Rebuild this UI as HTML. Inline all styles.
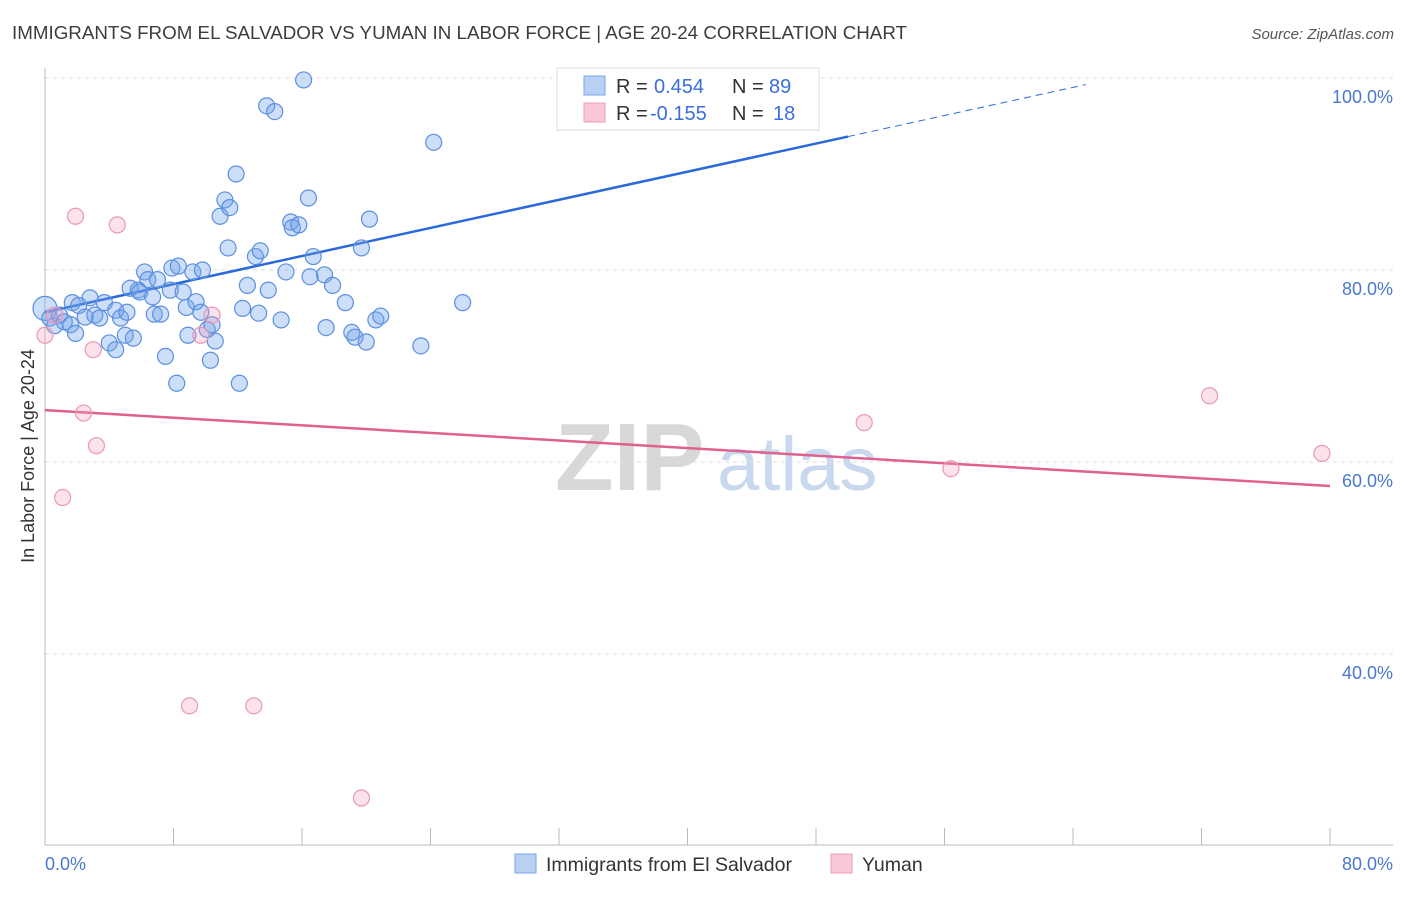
<!DOCTYPE html>
<html><head><meta charset="utf-8"><style>
body{margin:0;background:#fff;font-family:"Liberation Sans",sans-serif;}
svg text{font-family:"Liberation Sans",sans-serif;}
</style></head><body>
<svg id="chart" width="1406" height="892" viewBox="0 0 1406 892" xmlns="http://www.w3.org/2000/svg">
<text x="12" y="39" font-size="18" fill="#3c3c3c" textLength="895" lengthAdjust="spacingAndGlyphs">IMMIGRANTS FROM EL SALVADOR VS YUMAN IN LABOR FORCE | AGE 20-24 CORRELATION CHART</text>
<text x="1394" y="39" font-size="15" fill="#555" text-anchor="end" font-style="italic">Source: ZipAtlas.com</text>
<g>
<text x="555" y="490" font-size="96" fill="#d8d8d8" font-family="Liberation Serif" font-weight="bold">ZIP</text>
<text x="717" y="490" font-size="76" fill="#c8d8ee">atlas</text>
</g>
<g id="grid"></g>
<line x1="45" y1="68" x2="45" y2="845" stroke="#bbb"/>
<line x1="45" y1="845" x2="1393" y2="845" stroke="#bbb"/>
<g id="ticks"></g>
<text transform="translate(34,456) rotate(-90)" font-size="18" fill="#333" text-anchor="middle">In Labor Force | Age 20-24</text>
<text x="45" y="870" font-size="18" fill="#4a78d0">0.0%</text>
<text x="1393" y="870" font-size="18" fill="#4a78d0" text-anchor="end">80.0%</text>
<g id="trends"></g>
<g id="points"></g>
<g>
<rect x="557" y="68" width="262" height="62" fill="#fff" stroke="#ddd"/>
<rect x="584" y="76" width="21" height="19" fill="#b8d0f4" stroke="#7aa4e8"/>
<rect x="584" y="103" width="21" height="19" fill="#f8c8d8" stroke="#ec9cb8"/>
<text x="616" y="93" font-size="20" fill="#333">R = <tspan x="654" fill="#3a6fd8">0.454</tspan><tspan x="732">N = </tspan><tspan x="769" fill="#3a6fd8">89</tspan></text>
<text x="616" y="120" font-size="20" fill="#333">R = <tspan x="650" fill="#3a6fd8">-0.155</tspan><tspan x="732">N = </tspan><tspan x="773" fill="#3a6fd8">18</tspan></text>
</g>
<g>
<rect x="515" y="854" width="21" height="19" fill="#b8d0f4" stroke="#7aa4e8"/>
<text x="546" y="871" font-size="19.5" fill="#333">Immigrants from El Salvador</text>
<rect x="831" y="854" width="21" height="19" fill="#f8c8d8" stroke="#ec9cb8"/>
<text x="862" y="871" font-size="19.5" fill="#333">Yuman</text>
</g>
</svg>
<script>
const yTicks=[40,60,80,100];
const xTicks=[0,8,16,24,32,40,48,56,64,72,80];
const blueX=[0.0,0.3,0.6,0.9,1.2,1.6,1.7,1.9,2.1,2.5,2.8,3.1,3.4,3.7,4.0,4.4,4.4,4.7,5.0,5.1,5.3,5.5,5.8,5.9,6.2,6.4,6.7,6.8,7.0,7.2,7.5,7.8,7.9,8.2,8.3,8.6,8.8,8.9,9.2,9.4,9.7,9.8,10.1,10.3,10.4,10.6,10.9,11.2,11.4,11.5,11.9,12.1,12.3,12.6,13.1,13.3,13.4,13.8,13.9,14.3,14.7,15.0,15.3,15.4,15.8,16.1,16.4,16.5,16.7,17.4,17.5,17.9,18.7,19.1,19.3,19.7,20.0,20.2,20.6,20.9,23.4,24.2,26.0,43.0];
const blueY=[76.0,75.0,74.2,75.3,74.6,74.3,76.6,73.4,76.3,75.1,77.1,75.3,75.0,76.6,72.4,71.7,75.8,75.0,73.2,75.6,78.1,72.9,77.9,77.7,79.8,79.0,77.2,75.4,79.0,75.4,71.0,77.9,80.2,68.2,80.4,77.7,76.1,73.2,79.8,76.7,75.6,80.0,73.8,70.6,74.3,72.6,85.6,87.3,82.3,86.5,90.0,68.2,76.0,78.4,81.4,75.5,82.0,97.1,77.9,96.5,74.8,79.8,85.0,84.4,84.7,99.8,87.5,79.3,81.4,79.5,74.0,78.4,76.6,73.5,73.0,82.3,72.5,85.3,74.8,75.2,72.1,93.3,76.6,99.8];
const pinkX=[0.0,0.6,1.1,1.9,2.4,3.0,3.2,4.5,9.0,9.7,10.4,13.0,19.7,51.0,56.4,72.5,79.5];
const pinkY=[73.2,75.3,56.3,85.6,65.1,71.7,61.7,84.7,34.6,73.2,75.3,34.6,25.0,64.1,59.3,66.9,60.9];
const blueTrend=[75.6,0.366];
const pinkTrend=[65.4,57.5];
const NS='http://www.w3.org/2000/svg';
const sx=v=>45+v/80*1285;
const sy=v=>78+(100-v)*9.6;
function mk(tag,attrs,parent){const e=document.createElementNS(NS,tag);for(const k in attrs)e.setAttribute(k,attrs[k]);document.getElementById(parent).appendChild(e);return e;}
yTicks.forEach(t=>{
 const l=mk('line',{x1:45,x2:1393,y1:sy(t),y2:sy(t),stroke:'#ddd','stroke-dasharray':'4,4'},'grid');
 
 
 const tx=mk('text',{x:1393,y:sy(t)+25,'font-size':18,fill:'#4a78d0','text-anchor':'end'},'grid');
 tx.textContent=t.toFixed(1)+'%';
 
 
});
xTicks.forEach(t=>{
 const l=mk('line',{x1:sx(t),x2:sx(t),y1:828,y2:845,stroke:'#bbb'},'ticks');
 
 
});
const bx1=0,bx2=50,bx3=64.8;
const by=x=>blueTrend[0]+blueTrend[1]*x;
const bl=mk('line',{x1:sx(bx1),y1:sy(by(bx1)),x2:sx(bx2),y2:sy(by(bx2)),stroke:'#2a6ad8','stroke-width':2.5},'trends');


const bd=mk('line',{x1:sx(bx2),y1:sy(by(bx2)),x2:sx(bx3),y2:sy(by(bx3)),stroke:'#2a6ad8','stroke-width':1,'stroke-dasharray':'7,5'},'trends');


const pl=mk('line',{x1:sx(0),y1:sy(pinkTrend[0]),x2:sx(80),y2:sy(pinkTrend[1]),stroke:'#e0608e','stroke-width':2.5},'trends');


blueX.forEach((x,i)=>{
 const c=mk('circle',{cx:sx(x),cy:sy(blueY[i]),r:i===0?12:8,fill:'rgba(110,160,235,0.35)',stroke:'#5b8fe0','stroke-width':1.2},'points');
 
 
});
pinkX.forEach((x,i)=>{
 const c=mk('circle',{cx:sx(x),cy:sy(pinkY[i]),r:8,fill:'rgba(245,160,190,0.3)',stroke:'#ea98b6','stroke-width':1.2},'points');
 
 
});
</script>
</body></html>
